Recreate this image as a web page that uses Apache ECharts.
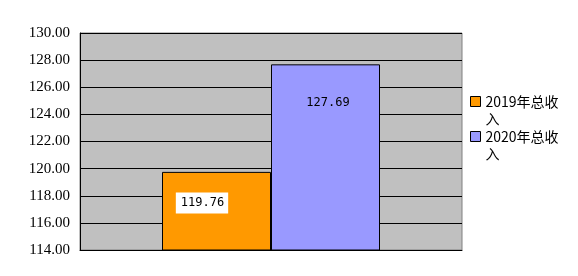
<!DOCTYPE html>
<html><head><meta charset="utf-8">
<script src="https://cdn.jsdelivr.net/npm/echarts@6/dist/echarts.min.js"></script>
<style>html,body{margin:0;padding:0;background:#fff}#c{width:578px;height:276px}</style>
</head><body><div id="c"></div>
<script>
var categories = [''];
var seriesNames = ['2019年总收入', '2020年总收入'];
var values2019 = [119.76];
var values2020 = [127.69];
var yMin = 114, yMax = 130, yStep = 2;

var chart = echarts.init(document.getElementById('c'), null, {renderer: 'canvas'});
var labelFont = {fontFamily: 'DejaVu Sans Mono', fontSize: 12, color: '#000'};
chart.setOption({
  animation: false,
  grid: {left: 80, top: 33, right: 116, bottom: 26, show: true,
         backgroundColor: '#c0c0c0', borderColor: '#808080', borderWidth: 1},
  legend: {
    orient: 'vertical', left: 465, top: 71, itemWidth: 10, itemHeight: 10, itemGap: -16,
    icon: 'rect',
    itemStyle: {borderColor: '#000', borderWidth: 1},
    formatter: function (name) { return '\n' + name; },
    textStyle: {fontFamily: 'Noto Sans CJK SC', fontSize: 14, color: '#000',
                lineHeight: 17, width: 76, overflow: 'breakAll'},
    data: seriesNames
  },
  xAxis: {type: 'category', data: categories,
          axisLine: {lineStyle: {color: '#000', width: 1}},
          axisTick: {show: false}, axisLabel: {show: false}},
  yAxis: {type: 'value', min: yMin, max: yMax, interval: yStep,
          axisLine: {show: true, lineStyle: {color: '#000', width: 1}},
          axisTick: {show: true, inside: true, length: 5, lineStyle: {color: '#000'}},
          splitLine: {lineStyle: {color: '#000', width: 1}},
          axisLabel: {margin: 10, color: '#000', fontFamily: 'Liberation Serif', fontSize: 15,
                      formatter: function (v) { return v.toFixed(2); }}},
  series: [
    {name: seriesNames[0], type: 'bar', data: values2019, barWidth: 109, barGap: '0%',
     itemStyle: {color: '#ff9900', borderColor: '#000', borderWidth: 1},
     label: Object.assign({show: true, position: [40, 31], align: 'center', verticalAlign: 'middle',
            backgroundColor: '#fff', padding: [5, 4, 4, 5],
            formatter: function (p) { return p.value.toFixed(2); }}, labelFont)},
    {name: seriesNames[1], type: 'bar', data: values2020, barWidth: 109, barGap: '0%',
     itemStyle: {color: '#9999ff', borderColor: '#000', borderWidth: 1},
     label: Object.assign({show: true, position: [57, 39], align: 'center', verticalAlign: 'middle',
            formatter: function (p) { return p.value.toFixed(2); }}, labelFont)}
  ]
});
</script></body></html>
